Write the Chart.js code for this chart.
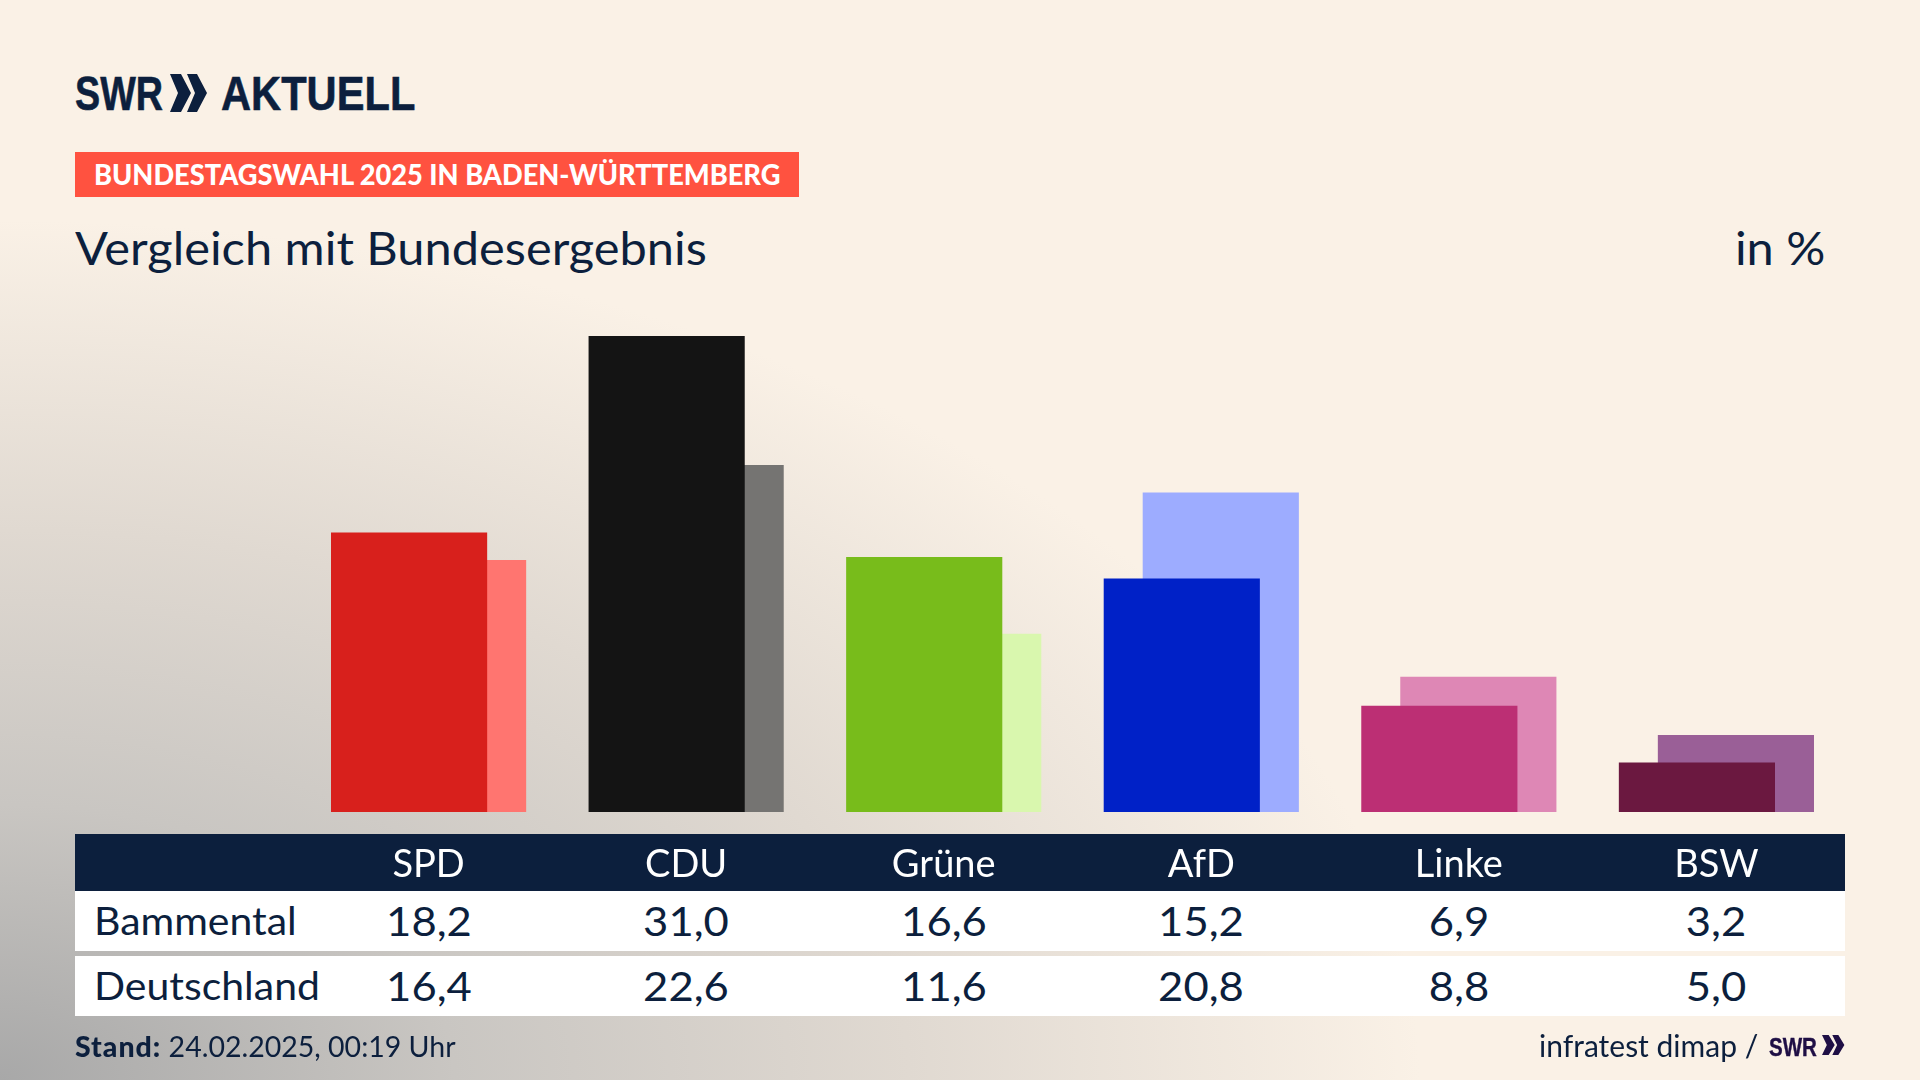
<!DOCTYPE html>
<html lang="de">
<head>
<meta charset="utf-8">
<title>Vergleich mit Bundesergebnis</title>
<script src="https://cdn.jsdelivr.net/npm/chart.js@4"></script>
<style>
  html, body { margin: 0; padding: 0; }
  body {
    width: 1920px; height: 1080px; overflow: hidden; position: relative;
    font-family: Lato, sans-serif; color: #0c1f3d;
    background:
      radial-gradient(ellipse 1420px 860px at 0% 100%, #a8a8a8 0%, #c9c6c2 32%, #e0d9d1 64%, rgba(250,241,230,0) 100%),
      #faf1e6;
  }
  .abs { position: absolute; white-space: nowrap; }
  .logo { font-family: "Liberation Sans", sans-serif; font-weight: 700; font-size: 49px; line-height: 50px; transform-origin: left center; -webkit-text-stroke: 0.6px #0c1f3d; }
  .tag { left: 75px; top: 152px; width: 724px; height: 45px; background: #ff5240; }
  .tag span { position: absolute; left: 19px; top: 5px; color: #fff; font-weight: 900; font-size: 28.5px; line-height: 34px; transform: scaleX(0.955); transform-origin: left center; white-space: nowrap; }
  .title { font-size: 46px; line-height: 54px; top: 221px; transform: scaleX(1.06); }
  .band { position: absolute; left: 75px; width: 1770px; }
  .cell { position: absolute; transform: translateX(-50%) scaleX(1.09); font-size: 40px; line-height: 60px; white-space: nowrap; }
  .rowname { position: absolute; left: 19px; font-size: 39px; line-height: 58px; white-space: nowrap; transform: scaleX(1.05); transform-origin: left center; }
  .foot { font-size: 28.5px; line-height: 36px; top: 1028px; }
  canvas { position: absolute; left: 0; top: 0; }
</style>
</head>
<body>
  <div class="abs logo" style="left:75px;top:68px;transform:scaleX(0.77)">SWR</div>
  <svg class="abs" style="left:170px;top:74px" width="38" height="38" viewBox="0 0 38 38"><path fill="#0c1f3d" d="M0 0 L11 0 L21 19 L11 38 L0 38 L8 19 Z M17 0 L27 0 L37 19 L27 38 L17 38 L25 19 Z"/></svg>
  <div class="abs logo" style="left:221px;top:68px;transform:scaleX(0.85)">AKTUELL</div>

  <div class="abs tag"><span>BUNDESTAGSWAHL 2025 IN BADEN-WÜRTTEMBERG</span></div>
  <div class="abs title" style="left:75px;transform-origin:left center">Vergleich mit Bundesergebnis</div>
  <div class="abs title" style="right:95px;transform-origin:right center">in %</div>

  <div class="band" style="top:834px;height:57px;background:#0c1f3d"></div>
  <div class="band" id="row0" style="top:891px;height:60px;background:#fff"></div>
  <div class="band" id="row1" style="top:956px;height:60px;background:#fff"></div>

  <canvas id="chart" width="1920" height="1080"></canvas>

  <div class="abs foot" style="left:75px"><b style="font-weight:900;letter-spacing:1px">Stand:</b> 24.02.2025, 00:19 Uhr</div>
  <div class="abs foot" style="left:1539px;top:1027px;font-size:30px">infratest dimap /</div>
  <div class="abs logo" style="left:1769px;top:1032px;font-size:26px;line-height:30px;color:#1f0f45;-webkit-text-stroke:0.4px #1f0f45;transform:scaleX(0.79)">SWR</div>
  <svg class="abs" style="left:1822px;top:1035px" width="23" height="20" viewBox="0 0 38 38" preserveAspectRatio="none"><path fill="#1f0f45" d="M0 0 L11 0 L21 19 L11 38 L0 38 L8 19 Z M17 0 L27 0 L37 19 L27 38 L17 38 L25 19 Z"/></svg>

<script>
const parties = ['SPD', 'CDU', 'Grüne', 'AfD', 'Linke', 'BSW'];
const rowNames = ['Bammental', 'Deutschland'];
const bammental = [18.2, 31.0, 16.6, 15.2, 6.9, 3.2];
const deutschland = [16.4, 22.6, 11.6, 20.8, 8.8, 5.0];
const darkColors = ['#d8201c', '#141414', '#78bc1b', '#0021c7', '#bc2f74', '#6b1840'];
const lightColors = ['#ff7570', '#757472', '#d9f7ae', '#9dacff', '#de87b5', '#9a5f97'];

// bars of one party overlap, shifted a bit to each side of the column centre
const barShift = 0.0757;

function fmt(v) { return v.toFixed(1).replace('.', ','); }

// table rows under the chart, columns use the same x scale as the bars
function renderRows(chart) {
  [bammental, deutschland].forEach((vals, r) => {
    const row = document.getElementById('row' + r);
    let html = `<div class="rowname">${rowNames[r]}</div>`;
    vals.forEach((v, i) => {
      const x = chart.scales.x.getPixelForValue(i) - 75;
      html += `<div class="cell" style="left:${x}px">${fmt(v)}</div>`;
    });
    row.innerHTML = html;
  });
}

const chart = new Chart(document.getElementById('chart'), {
  type: 'bar',
  data: {
    datasets: [
      { label: rowNames[0], data: bammental.map((v, i) => ({ x: i - barShift, y: v })), backgroundColor: darkColors },
      { label: rowNames[1], data: deutschland.map((v, i) => ({ x: i + barShift, y: v })), backgroundColor: lightColors }
    ]
  },
  options: {
    responsive: false,
    animation: false,
    layout: { padding: { left: 299.8, right: 74.8, top: 275, bottom: 0 } },
    datasets: { bar: { grouped: false, barThickness: 155.5 } },
    plugins: { legend: { display: false }, tooltip: { enabled: false } },
    scales: {
      x: {
        type: 'linear', offset: false, min: -0.5, max: 5.5,
        grid: { display: false, drawTicks: false }, border: { display: false },
        afterBuildTicks: s => { s.ticks = parties.map((_, i) => ({ value: i })); },
        afterFit: s => { s.height = 268; },
        ticks: {
          color: '#fff', padding: 30, autoSkip: false, maxRotation: 0,
          font: { family: 'Lato', size: 38 },
          callback: v => parties[v]
        }
      },
      y: { display: false, min: 0, max: 35 }
    }
  }
});
renderRows(chart);
</script>
</body>
</html>
